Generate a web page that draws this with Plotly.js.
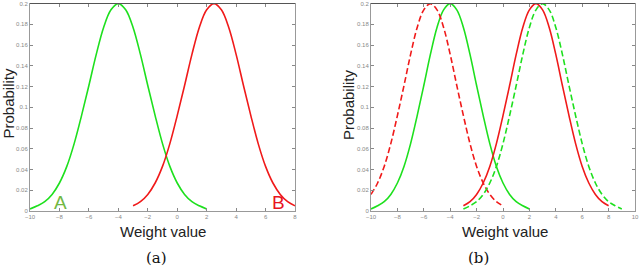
<!DOCTYPE html>
<html><head><meta charset="utf-8">
<script src="https://cdn.plot.ly/plotly-3.0.1.min.js"></script>
<style>html,body{margin:0;padding:0;background:#fff}#c{width:640px;height:268px}</style>
</head><body><div id="c"></div>
<script>
// Panel (a)
const xA = [-10,-9.5,-9,-8.5,-8,-7.5,-7,-6.5,-6,-5.5,-5,-4.5,-4,-3.5,-3,-2.5,-2,-1.5,-1,-0.5,0,0.5,1,1.5,2];
const yA = [0.002,0.005,0.009,0.016,0.027,0.043,0.065,0.092,0.121,0.151,0.177,0.194,0.200,0.194,0.177,0.151,0.121,0.092,0.065,0.043,0.027,0.016,0.009,0.005,0.002];
const xB = [-3,-2.5,-2,-1.5,-1,-0.5,0,0.5,1,1.5,2,2.5,3,3.5,4,4.5,5,5.5,6,6.5,7,7.5,8];
const yB = [0.005,0.009,0.016,0.027,0.043,0.065,0.092,0.121,0.151,0.177,0.194,0.200,0.194,0.177,0.151,0.121,0.092,0.065,0.043,0.027,0.016,0.009,0.005];
// Panel (b) extra shifted curves
const xRedDash = [-10,-9.5,-9,-8.5,-8,-7.5,-7,-6.5,-6,-5.5,-5,-4.5,-4,-3.5,-3,-2.5,-2,-1.5,-1,-0.5,0];
const yRedDash = [0.016,0.027,0.043,0.065,0.092,0.121,0.151,0.177,0.194,0.200,0.194,0.177,0.151,0.121,0.092,0.065,0.043,0.027,0.016,0.009,0.005];
const xGreenDash = [-3,-2.5,-2,-1.5,-1,-0.5,0,0.5,1,1.5,2,2.5,3,3.5,4,4.5,5,5.5,6,6.5,7,7.5,8,8.5,9];
const yGreenDash = [0.002,0.005,0.009,0.016,0.027,0.043,0.065,0.092,0.121,0.151,0.177,0.194,0.200,0.194,0.177,0.151,0.121,0.092,0.065,0.043,0.027,0.016,0.009,0.005,0.002];
const yTicks = [0,0.02,0.04,0.06,0.08,0.1,0.12,0.14,0.16,0.18,0.2];
const xTicksA = [-10,-8,-6,-4,-2,0,2,4,6,8];
const xTicksB = [-10,-8,-6,-4,-2,0,2,4,6,8,10];

const G = '#1ee01e', R = '#f01a1a';
function tr(x,y,c,dash,xa,ya){return {x:x,y:y,mode:'lines',line:{color:c,width:1.6,dash:dash,shape:'spline'},xaxis:xa,yaxis:ya,hoverinfo:'skip',showlegend:false};}
const data = [
  tr(xA,yA,G,'solid','x','y'), tr(xB,yB,R,'solid','x','y'),
  tr(xA,yA,G,'solid','x2','y2'), tr(xB,yB,R,'solid','x2','y2'),
  tr(xRedDash,yRedDash,R,'6px,3px','x2','y2'), tr(xGreenDash,yGreenDash,G,'6px,3px','x2','y2')
];
const tickF = {family:'Liberation Sans, Arial', size:6, color:'#888'};
function ax(dom,rng,vals,anchor){return {domain:dom,range:rng,tickvals:vals,ticks:'inside',ticklen:3,tickcolor:'#888',
  showline:true,linecolor:'#999',linewidth:1,mirror:'ticks',showgrid:false,zeroline:false,tickfont:tickF,anchor:anchor,fixedrange:true};}
const yd = [1-211/268, 1-3.5/268];
const titleF = {family:'Liberation Sans, Arial', size:15, color:'#222'};
const layout = {
  width:640,height:268,margin:{l:0,r:0,t:0,b:0},paper_bgcolor:'#fff',plot_bgcolor:'#fff',
  xaxis:ax([30/640,295/640],[-10,8],xTicksA,'y'),
  yaxis:ax(yd,[0,0.2001],yTicks,'x'),
  xaxis2:ax([371/640,635/640],[-10,10],xTicksB,'y2'),
  yaxis2:ax(yd,[0,0.2001],yTicks,'x2'),
  shapes:[
    {type:'line',xref:'paper',yref:'paper',x0:30/640,x1:295/640,y0:yd[1],y1:yd[1],line:{color:'#555',width:1}},
    {type:'line',xref:'paper',yref:'paper',x0:371/640,x1:635/640,y0:yd[1],y1:yd[1],line:{color:'#555',width:1}}
  ],
  annotations:[
    {text:'Weight value',xref:'paper',yref:'paper',x:163/640,y:1-231/268,showarrow:false,font:titleF,xanchor:'center',yanchor:'middle'},
    {text:'Weight value',xref:'paper',yref:'paper',x:505/640,y:1-231/268,showarrow:false,font:titleF,xanchor:'center',yanchor:'middle'},
    {text:'Probability',xref:'paper',yref:'paper',x:8.5/640,y:1-103/268,showarrow:false,font:titleF,textangle:-90,xanchor:'center',yanchor:'middle'},
    {text:'Probability',xref:'paper',yref:'paper',x:348/640,y:1-105/268,showarrow:false,font:titleF,textangle:-90,xanchor:'center',yanchor:'middle'},
    {text:'(a)',xref:'paper',yref:'paper',x:156/640,y:1-258/268,showarrow:false,font:{family:'DejaVu Serif, Liberation Serif',size:15,color:'#111'},xanchor:'center',yanchor:'middle'},
    {text:'(b)',xref:'paper',yref:'paper',x:478/640,y:1-258/268,showarrow:false,font:{family:'DejaVu Serif, Liberation Serif',size:15,color:'#111'},xanchor:'center',yanchor:'middle'},
    {text:'A',xref:'x',yref:'y',x:-7.9,y:0.008,showarrow:false,font:{family:'Liberation Sans, Arial',size:19,color:'#72b843'},xanchor:'center',yanchor:'middle'},
    {text:'B',xref:'x',yref:'y',x:6.9,y:0.008,showarrow:false,font:{family:'Liberation Sans, Arial',size:19,color:'#e8141e'},xanchor:'center',yanchor:'middle'}
  ]
};
Plotly.newPlot('c',data,layout,{staticPlot:true,displayModeBar:false});
</script></body></html>
